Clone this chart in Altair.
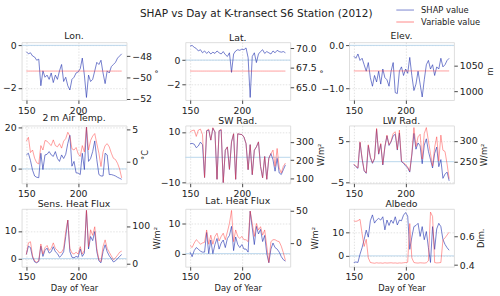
import altair as alt
import pandas as pd

FONT = "DejaVu Sans"
BLUE = "#2233b0"
RED = "#ff3a3a"

days = list(range(150, 243, 2))

lon_shap = [-0.3, -0.4, -0.35, -0.5, -0.55, -0.7, -0.65, -1.9, -1.2, -1.5,
            -1.4, -1.6, -1.3, -1.75, -1.4, -1.6, -1.2, -0.9, -1.7, -1.5,
            -1.9, -2.1, -1.6, -1.5, -1.3, -1.25, -1.1, -0.6, -1.4, -2.45,
            -1.4, -1.7, -1.6, -1.2, -0.8, -0.9, -0.7, -1.3, -1.8, -1.2,
            -1.3, -1.0, -0.9, -0.8, -0.6, -0.5, -0.4]
lon_var = [-49.4] * 47

lat_shap = [1.15, 1.2, 1.05, 0.95, 0.75, 0.85, 0.6, 0.75, 0.55, 0.7,
            0.5, 0.65, 0.55, 0.75, 0.6, 0.5, 0.7, 0.45, 0.3, 0.6,
            -1.0, 0.5, 0.75, 0.85, 0.8, 0.9, 0.85, 1.0, 0.2, -3.05,
            0.3, 0.6, -0.2, 0.5, 0.7, 0.85, 0.55, 0.7, 0.6, 0.5,
            0.75, 0.6, 0.8, 0.7, 0.65, 0.7, 0.6]
lat_var = [67.1] * 47

elev_shap = [-0.25, -0.3, -0.2, -0.35, -0.3, -0.45, -0.6, -0.4, -0.75, -0.95,
             -0.7, -0.85, -0.6, -0.9, -0.55, -0.75, -0.8, -0.95, -0.6, -0.4,
             -1.1, -1.12, -0.6, -0.5, -0.7, -0.55, -0.65, -0.28, -0.7, -1.05,
             -0.9, -0.6, -0.9, -1.2, -0.8, -0.45, -0.35, -0.55, -0.45, -0.7,
             -0.5, -0.55, -0.3, -0.5, -0.45, -0.35, -0.3]
elev_var = [1040] * 47

air_shap = [6.7, 7.5, 4.0, -0.6, -3.4, -4.0, -4.2, 7.5, -0.3, 6.7,
            7.0, 8.3, 6.7, 6.0, 8.3, 5.0, 3.6, 6.7, 5.0, 7.0,
            12.2, 16.1, 1.3, 3.6, -1.9, -2.0, -2.7, 7.5, -0.3, 20.0,
            3.6, 5.0, 8.3, 13.4, 4.4, -2.7, -3.4, -3.4, 7.5, 6.7,
            -2.7, -2.7, -3.0, -3.4, -4.0, -4.5, -5.0]
air_var = [3.2, 3.8, 1.4, 1.8, 0.5, -0.2, -0.4, 2.5, 1.8, 3.3,
           3.2, 2.8, 2.5, 3.4, 2.5, 2.3, 2.8, 2.1, 3.2, 3.6,
           4.6, 4.0, 2.0, 1.8, 2.2, 1.2, 0.8, 2.5, 1.5, 5.4,
           1.8, 3.3, 4.0, 4.4, 2.8, 1.3, -0.8, 1.5, 2.5, 2.8,
           2.3, 1.3, 0.5, 0.3, -0.3, -1.2, -2.6]

sw_shap = [5.4, 5.5, 5.2, 3.8, 4.5, 6.0, 5.0, -8.0, 10.5, 10.8,
           6.8, 11.5, 10.0, -8.7, 10.5, 10.8, -10.0, 2.8, 4.1, -4.8,
           6.1, 9.3, -8.7, 9.3, 9.1, 9.0, 8.0, 5.4, -4.9, 5.0,
           -6.9, 2.8, 4.1, 6.1, -3.6, -8.1, 0.3, -8.7, -0.4, 1.5,
           -1.0, -5.5, -0.4, -6.2, -6.8, -4.9, -3.0]
sw_var = [355, 362, 365, 330, 365, 370, 340, 105, 362, 370,
          310, 378, 355, 95, 362, 370, 77, 255, 273, 150,
          300, 345, 95, 345, 342, 340, 327, 291, 148, 285,
          121, 255, 273, 300, 166, 104, 220, 95, 211, 235,
          255, 166, 264, 157, 130, 166, 184]

lw_shap = [-0.7, -1.2, -1.6, 4.6, 0.7, -2.2, -2.8, 3.9, 1.0, -0.4,
           0.7, 7.8, 1.8, 4.2, -0.8, 3.5, 6.2, 3.9, 4.8, 6.2,
           6.6, 2.8, 6.9, 0.0, -0.4, -1.0, -1.5, -2.5, 1.6, 6.8,
           3.0, 4.5, 3.8, -0.5, 4.0, 5.5, 2.5, 0.5, -1.5, 2.0,
           3.5, -1.2, 0.5, -4.0, -3.0, -2.5, -4.6]
lw_var = [245, 240, 236, 298, 259, 230, 224, 291, 262, 248,
          259, 330, 270, 294, 244, 287, 314, 291, 300, 318,
          322, 280, 326, 252, 248, 244, 238, 228, 270, 332,
          287, 310, 316, 257, 318, 332, 300, 270, 240, 285,
          310, 252, 314, 278, 275, 245, 210]

shf_shap = [1.5, 4.5, 4.0, 0.5, -1.2, -1.5, -1.0, 4.5, 0.8, 3.0,
            3.8, 2.0, 2.5, 4.3, 2.5, 1.8, 0.5, 1.2, 2.5, 8.0,
            13.9, 2.5, 0.5, 0.3, 0.8, 0.5, 3.5, 0.8, 2.0, 17.4,
            3.5, 8.0, 6.5, 9.8, 2.5, -0.8, -1.5, 2.5, 5.0, 2.5,
            1.0, 0.0, -1.2, -0.8, 0.0, 0.8, 1.5]
shf_var = [24, 55, 58, 20, 7, 3, 8, 52, 25, 42,
           48, 35, 40, 55, 40, 35, 28, 30, 40, 85,
           116, 40, 28, 25, 30, 25, 45, 25, 35, 142,
           45, 90, 75, 98, 40, 10, 5, 45, 63, 40,
           30, 20, 10, 15, 22, 30, 33]

lhf_shap = [0.5, -1.0, 1.0, 2.0, 1.5, 0.8, 0.5, 0.5, 7.0, 0.0,
            4.5, 0.0, 3.0, 5.0, 1.5, 3.5, 4.5, 2.0, 5.0, 6.0,
            9.0, 1.0, 5.5, 3.0, 2.0, 3.0, 1.5, 1.5, 0.5, 14.0,
            8.5, 3.0, 9.0, 6.5, 8.0, 4.0, 6.0, 0.0, -3.0, 1.5,
            3.5, 2.0, 1.5, 0.5, -1.0, -2.0, -2.5]
lhf_var = [-4, -7, 0, 5, 2, -2, 0, 1, 20, -2,
           12, -2, 10, 15, 3, 10, 15, 5, 17, 30,
           50, 2, 20, 10, 7, 10, 5, 5, 2, 49,
           30, 10, 30, 20, 25, 12, 20, -5, -30, 2,
           5, 5, 3, 2, -5, -15, -27]

alb_shap = [-2.8, -2.6, -2.8, 0.7, 3.5, 7.0, 11.0, 8.0, 15.0, 17.5,
            14.0, 15.3, 16.0, 15.3, 16.7, 11.1, 15.3, 13.0, 15.3, 13.9,
            16.7, 13.2, 15.3, 15.0, 17.4, 18.5, 17.0, 2.8, 8.0, 12.5,
            13.0, 13.9, 8.3, 12.5, 6.9, 10.4, 3.5, -2.8, 12.5, 2.8,
            11.5, 13.9, 12.5, 7.0, 4.9, 3.5, 2.4]
alb_var = [0.71, 0.705, 0.71, 0.72, 0.62, 0.53, 0.58, 0.45, 0.418, 0.415,
           0.413, 0.416, 0.414, 0.415, 0.413, 0.416, 0.414, 0.415, 0.416, 0.414,
           0.415, 0.413, 0.415, 0.414, 0.416, 0.418, 0.42, 0.69, 0.45, 0.418,
           0.415, 0.414, 0.416, 0.415, 0.414, 0.416, 0.43, 0.77, 0.74, 0.418,
           0.415, 0.416, 0.418, 0.575, 0.59, 0.61, 0.63]

panels = [
    dict(title="Lon.", shap=lon_shap, var=lon_var, ldom=[-2.57, 0.15], rdom=[-52.12, -46.68],
         lt=[-2, -1, 0], rt=[-52, -50, -48], rtitle="°", lfmt="d", rfmt="d"),
    dict(title="Lat.", shap=lat_shap, var=lat_var, ldom=[-3.26, 1.47], rdom=[63.4, 70.8],
         lt=[-2, 0], rt=[65.0, 67.5, 70.0], rtitle="°", lfmt="d", rfmt=".1f"),
    dict(title="Elev.", shap=elev_shap, var=elev_var, ldom=[-1.27, 0.075], rdom=[982.5, 1097],
         lt=[-1.0, -0.5, 0.0], rt=[1000, 1050], rtitle="m", lfmt=".1f", rfmt="d"),
    dict(title="2\u2009m Air Temp.", shap=air_shap, var=air_var, ldom=[-6.9, 20.8], rdom=[-3.45, 5.67],
         lt=[0, 10, 20], rt=[0, 5], rtitle="°C", lfmt="d", rfmt="d"),
    dict(title="SW Rad.", shap=sw_shap, var=sw_var, ldom=[-10.3, 12.6], rdom=[73, 390],
         lt=[-10, 0, 10], rt=[100, 200, 300], rtitle="W/m²", lfmt="d", rfmt="d"),
    dict(title="LW Rad.", shap=lw_shap, var=lw_var, ldom=[-5.2, 8.7], rdom=[199, 337],
         lt=[-5, 0, 5], rt=[250, 300], rtitle="W/m²", lfmt="d", rfmt="d"),
    dict(title="Sens. Heat Flux", shap=shf_shap, var=shf_var, ldom=[-2.9, 18.0], rdom=[-8.6, 146],
         lt=[0, 10], rt=[0, 100], rtitle="W/m²", lfmt="d", rfmt="d"),
    dict(title="Lat. Heat Flux", shap=lhf_shap, var=lhf_var, ldom=[-4.3, 14.8], rdom=[-36.4, 52.5],
         lt=[0, 10], rt=[0, 50], rtitle="W/m²", lfmt="d", rfmt="d"),
    dict(title="Albedo", shap=alb_shap, var=alb_var, ldom=[-4.6, 20.1], rdom=[0.389, 0.793],
         lt=[0, 10], rt=[0.4, 0.6], rtitle="Dim.", lfmt="d", rfmt=".1f"),
]

series_domain = ["SHAP value", "Variable value"]
color_scale = alt.Scale(domain=series_domain, range=[BLUE, RED])
legend = alt.Legend(title=None, orient="none", legendX=387, legendY=-37,
                    symbolType="M-3,0H3", symbolSize=36, symbolStrokeWidth=1,
                    symbolOpacity=0.6, labelFontSize=8.5, labelFont=FONT,
                    labelOffset=12, rowPadding=3.2, labelColor="#222", padding=0)

XDOM = [145.4, 246.6]
GRID = dict(gridDash=[1.5, 1.5], gridColor="#b0b0b0", gridOpacity=0.6, gridWidth=0.6)
AX = dict(labelFont=FONT, labelFontSize=9.5, labelColor="#222", tickColor="#444",
          tickSize=3.5, labelPadding=2, domain=False, titleFont=FONT, titleFontSize=8.5,
          titleFontWeight="normal", titleColor="#222")


def make_panel(p, bottom):
    df = pd.DataFrame({"day": days, "shap": p["shap"], "var": p["var"]})
    xaxis_kw = dict(values=[150, 200], format="d", grid=True, **GRID, **AX)
    if bottom:
        xaxis_kw["title"] = "Day of Year"
        xaxis_kw["titlePadding"] = 2
    else:
        xaxis_kw["title"] = None
    x = alt.X("day:Q", scale=alt.Scale(domain=XDOM, nice=False, zero=False),
              axis=alt.Axis(**xaxis_kw))
    zero = alt.Chart(pd.DataFrame({"z": [0]})).mark_rule(
        color="#b9d6ec", strokeWidth=1).encode(y=alt.datum(0))
    blue = alt.Chart(df).transform_calculate(s="'SHAP value'").mark_line(
        strokeWidth=0.9, strokeOpacity=0.7).encode(
        x=x,
        y=alt.Y("shap:Q", scale=alt.Scale(domain=p["ldom"], nice=False, zero=False),
                axis=alt.Axis(orient="left", values=p["lt"], format=p["lfmt"], title=None,
                              grid=True, **GRID, **AX)),
        color=alt.Color("s:N", scale=color_scale, legend=legend),
    )
    left = alt.layer(zero, blue)
    red = alt.Chart(df).transform_calculate(s="'Variable value'").mark_line(
        strokeWidth=0.9, strokeOpacity=0.55).encode(
        x=x,
        y=alt.Y("var:Q", scale=alt.Scale(domain=p["rdom"], nice=False, zero=False),
                axis=alt.Axis(orient="right", values=p["rt"], format=p["rfmt"],
                              title=p["rtitle"], titleAngle=270, titleBaseline="top",
                              grid=False, titlePadding=3, **AX)),
        color=alt.Color("s:N", scale=color_scale, legend=legend),
    )
    return alt.layer(left, red).resolve_scale(y="independent").properties(
        width=107, height=59,
        title=alt.TitleParams(p["title"], font=FONT, fontSize=9.5, fontWeight="normal",
                              color="#222", offset=0),
    )


charts = [make_panel(panels[i], bottom=(i >= 6)) for i in range(9)]

chart = alt.concat(
    *charts, columns=3, spacing={"row": 26, "column": 60}, bounds="flush",
    title=alt.TitleParams("SHAP vs Day at K-transect S6 Station (2012)", font=FONT,
                          fontSize=10.7, fontWeight="normal", color="#222",
                          anchor="middle", dx=8, dy=14, offset=0),
).properties(
    padding={"left": 1, "top": 3, "right": 5, "bottom": 4}
).configure_view(
    stroke="#8a8a8a", strokeWidth=0.8
).configure(background="white")

chart.save("out.html", embed_options={"renderer": "svg", "actions": False})
